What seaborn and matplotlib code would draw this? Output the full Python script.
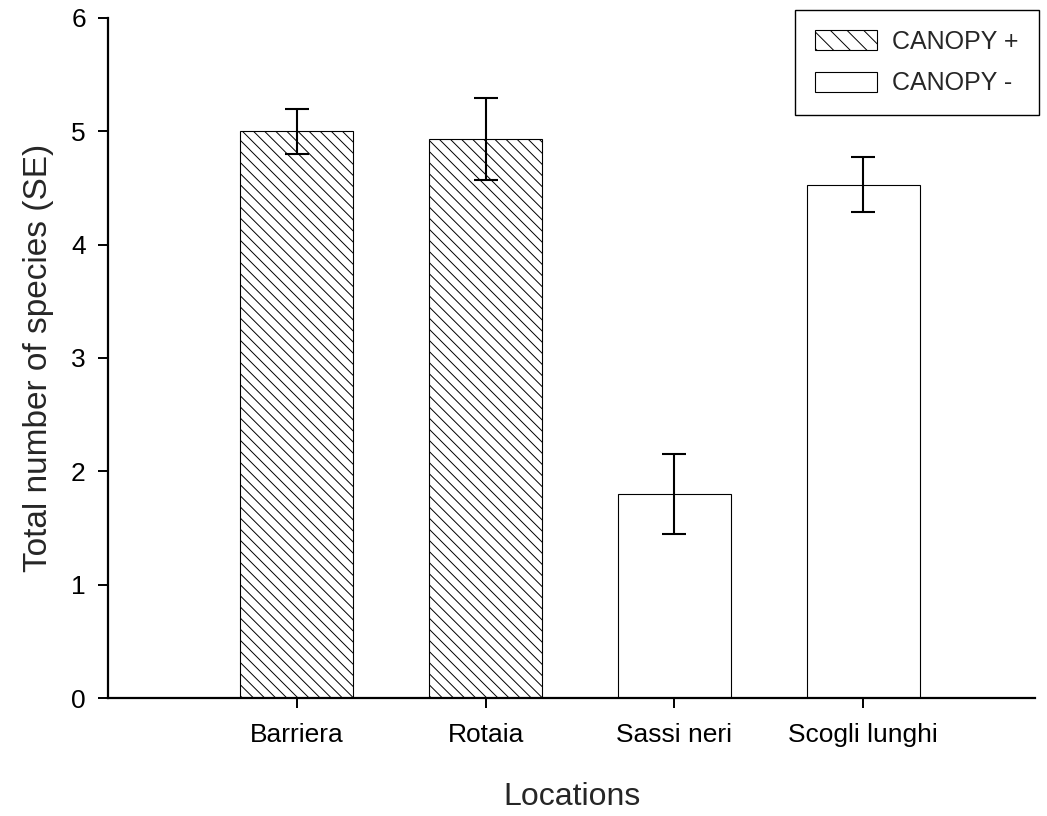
import matplotlib
matplotlib.use("Agg")
import numpy as np
import pandas as pd
import matplotlib.pyplot as plt
import seaborn as sns
from matplotlib.patches import Patch

# ---------------------------------------------------------------------------
# Data
# ---------------------------------------------------------------------------
locations    = ["Barriera", "Rotaia", "Sassi neri", "Scogli lunghi"]
canopy       = ["CANOPY +", "CANOPY +", "CANOPY -", "CANOPY -"]
mean_species = [5.00, 4.93, 1.80, 4.53]
se_species   = [0.20, 0.36, 0.35, 0.24]
y_ticks      = [0, 1, 2, 3, 4, 5, 6]

df = pd.DataFrame({
    "Location": locations,
    "Canopy": canopy,
    "Species": mean_species,
    "SE": se_species,
})

sns.set_style("ticks")
plt.rcParams["font.family"] = ["Liberation Sans", "DejaVu Sans"]
plt.rcParams["hatch.linewidth"] = 0.7

fig, ax = plt.subplots(figsize=(10.47, 8.16), dpi=100)
fig.subplots_adjust(left=0.1032, right=0.9885, top=0.978, bottom=0.1446)

sns.barplot(
    data=df, x="Location", y="Species", hue="Canopy",
    order=locations, hue_order=["CANOPY +", "CANOPY -"],
    dodge=False, width=0.6, saturation=1,
    palette={"CANOPY +": "white", "CANOPY -": "white"},
    edgecolor="black", linewidth=0.8,
    errorbar=None, legend=False, ax=ax,
)

# hatch the canopy-present bars
for patch in ax.patches:
    idx = int(round(patch.get_x() + patch.get_width() / 2))
    if canopy[idx] == "CANOPY +":
        patch.set_hatch("\\\\\\")

# standard-error bars
ax.errorbar(
    np.arange(len(locations)), df["Species"], yerr=df["SE"],
    fmt="none", ecolor="black", elinewidth=1.5,
    capsize=8.5, capthick=1.5, zorder=5,
)

# ---- Axes styling ---------------------------------------------------------
ax.set_xlim(-1.0, 3.91)
ax.set_ylim(0, 6)
ax.set_yticks(y_ticks)
sns.despine(ax=ax)
for side in ("left", "bottom"):
    ax.spines[side].set_linewidth(1.6)
    ax.spines[side].set_color("black")
ax.tick_params(axis="both", direction="out", length=7, width=1.4,
               colors="black", labelsize=19)
ax.tick_params(axis="y", pad=9)
ax.tick_params(axis="x", pad=11)

ax.set_xlabel("Locations", fontsize=23, labelpad=25)
ax.set_ylabel("Total number of species (SE)", fontsize=24, labelpad=12)

# ---- Legend ---------------------------------------------------------------
handles = [
    Patch(facecolor="white", edgecolor="black", hatch="\\\\", linewidth=0.8),
    Patch(facecolor="white", edgecolor="black", linewidth=0.8),
]
leg = ax.legend(
    handles, ["CANOPY +", "CANOPY -"],
    loc="upper right", bbox_to_anchor=(1.004, 1.012), borderaxespad=0,
    fontsize=18, fancybox=False, framealpha=1, edgecolor="black",
    handlelength=2.5, handleheight=0.85, handletextpad=0.6,
    labelspacing=0.7, borderpad=0.8,
)
leg.get_frame().set_linewidth(1.0)

fig.savefig("out.png", dpi=100)
